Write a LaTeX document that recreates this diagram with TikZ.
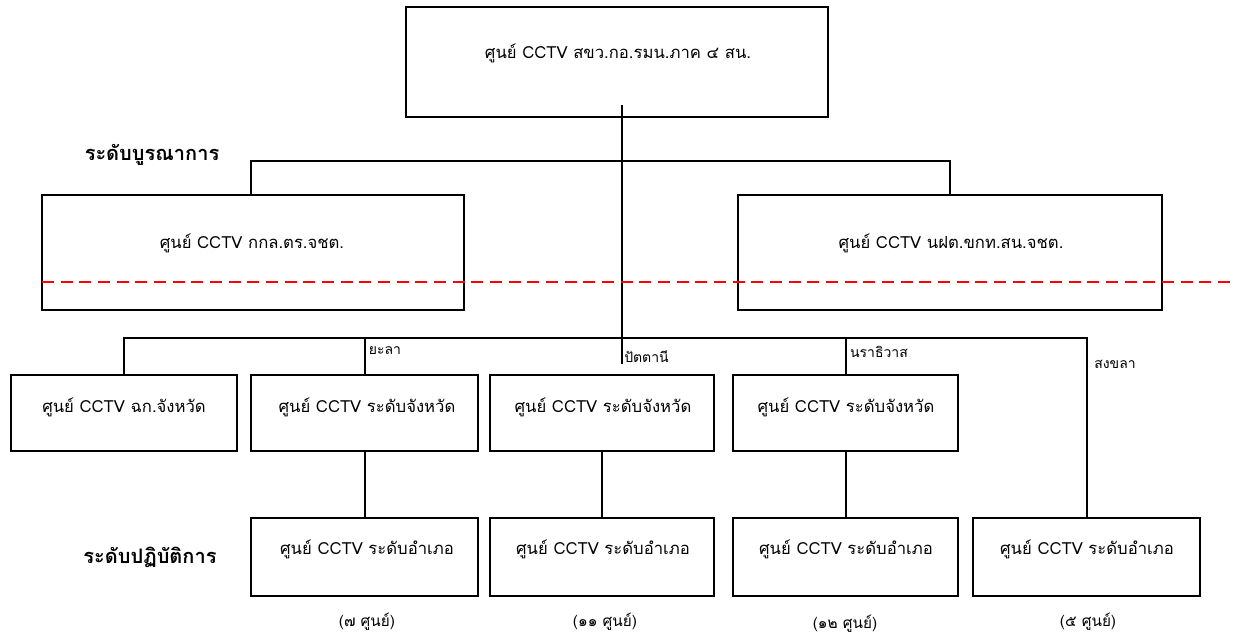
\documentclass[tikz,border=0pt]{standalone}
\usepackage{fontspec}
\newfontfamily\thai[Script=Thai]{Loma}
\begin{document}
\begin{tikzpicture}[x=0.75pt,y=-0.75pt,
  font=\thai\fontsize{12.5}{15}\selectfont,
  box/.style={draw=black,line width=1.8pt,inner sep=0pt,minimum width=#1},
  conn/.style={draw=black,line width=1.5pt},
  lbl/.style={inner sep=0pt,anchor=center},
  prov/.style={inner sep=0pt,anchor=center,font=\thai\fontsize{10.5}{12}\selectfont},
  cnt/.style={inner sep=0pt,anchor=center,font=\thai\fontsize{11.5}{13}\selectfont},
  lvl/.style={inner sep=0pt,anchor=center,font=\thai\fontsize{15}{17}\selectfont\bfseries}]
\useasboundingbox (0,0) rectangle (1239,637);
% top
\node[box=316.5pt,minimum height=82.5pt] (top) at (617,62) {};
\node[lbl] (ttop) at (618,53) {ศูนย์ CCTV สขว.กอ.รมน.ภาค ๔ สน.};
% level 2
\node[box=316.5pt,minimum height=86pt] (kkl) at (253,252.5) {};
\node[lbl] (tkkl) at (252,243) {ศูนย์ CCTV กกล.ตร.จชต.};
\node[box=318pt,minimum height=86pt] (nft) at (950,252.5) {};
\node[lbl] (tnft) at (951,243) {ศูนย์ CCTV นฝต.ขกท.สน.จชต.};
% province row
\node[box=169.5pt,minimum height=57pt] (fc) at (124,413) {};
\node[lbl] (tfc) at (124,407) {ศูนย์ CCTV ฉก.จังหวัด};
\node[box=170pt,minimum height=57pt] (yala) at (364.5,413) {};
\node[lbl] (tyala) at (367,407) {ศูนย์ CCTV ระดับจังหวัด};
\node[box=168pt,minimum height=57pt] (ptn) at (602,413) {};
\node[lbl] (tptn) at (603,407) {ศูนย์ CCTV ระดับจังหวัด};
\node[box=168.5pt,minimum height=57pt] (nrt) at (845.5,413) {};
\node[lbl] (tnrt) at (846,407) {ศูนย์ CCTV ระดับจังหวัด};
% district row
\node[box=170pt,minimum height=58.5pt] (b1) at (364.5,557) {};
\node[lbl] (tb1) at (367,549) {ศูนย์ CCTV ระดับอำเภอ};
\node[box=168pt,minimum height=58.5pt] (b2) at (602,557) {};
\node[lbl] (tb2) at (603,549) {ศูนย์ CCTV ระดับอำเภอ};
\node[box=168.5pt,minimum height=58.5pt] (b3) at (845.5,557) {};
\node[lbl] (tb3) at (846,549) {ศูนย์ CCTV ระดับอำเภอ};
\node[box=170pt,minimum height=58.5pt] (b4) at (1086.5,557) {};
\node[lbl] (tb4) at (1087,549) {ศูนย์ CCTV ระดับอำเภอ};
% level labels
\node[lvl] (l1) at (152,155) {ระดับบูรณาการ};
\node[lvl] (l2) at (150,557) {ระดับปฏิบัติการ};
% province labels
\node[prov] (pyala) at (385,351) {ยะลา};
\node[prov,anchor=west] (pptn) at (624,357) {ปัตตานี};
\node[prov] (pnrt) at (879,352) {นราธิวาส};
\node[prov] (psk) at (1115,364) {สงขลา};
% counts
\node[cnt] (c1) at (367,622) {(๗ ศูนย์)};
\node[cnt] (c2) at (605,622) {(๑๑ ศูนย์)};
\node[cnt] (c3) at (845,624) {(๑๒ ศูนย์)};
\node[cnt] (c4) at (1088,622) {(๕ ศูนย์)};
% connectors
\coordinate (cstart) at (622,105);
\coordinate (cend) at (622,364);
\coordinate (hL) at (251,161);
\coordinate (hR) at (950,161);
\coordinate (pL) at (124,338);
\coordinate (pR) at (1087,338);
\draw[conn] (cstart) -- (cend);
\draw[conn] (kkl.north -| hL) -- (hL) -- (hR) -- (nft.north -| hR);
\draw[conn] (fc.north) -- (pL) -- (pR) -- (b4.north -| pR);
\draw[conn] (yala.north) -- (yala.north |- pL);
\draw[conn] (nrt.north) -- (nrt.north |- pL);
\draw[conn] (yala.south) -- (b1.north);
\draw[conn] (ptn.south) -- (b2.north);
\draw[conn] (nrt.south) -- (b3.north);
% red dashed line
\coordinate (dL) at (42,282);
\coordinate (dR) at (1232,282);
\draw[red,line width=1.5pt,dash pattern=on 9pt off 5pt] (dL) -- (dR);
\end{tikzpicture}
\end{document}
